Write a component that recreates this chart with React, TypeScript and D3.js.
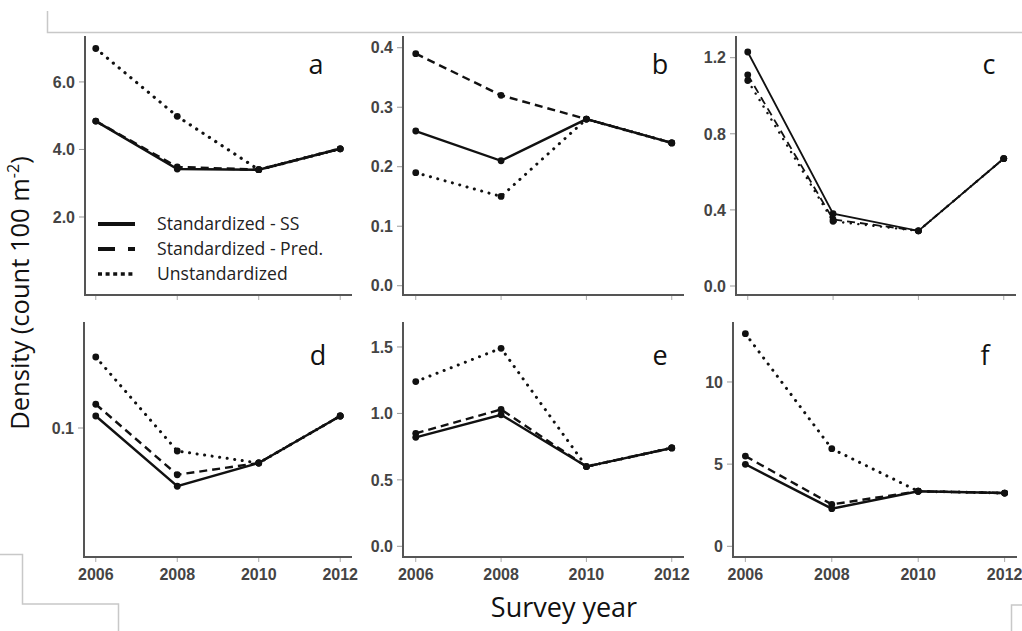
import React from "react";
import * as d3 from "d3";

// Survey years shared by every panel
const YEARS = [2006, 2008, 2010, 2012];
const SERIES_NAMES = ["Standardized - SS", "Standardized - Pred.", "Unstandardized"];

// Panel a
const A_SS = [4.84, 3.42, 3.4, 4.02];
const A_PRED = [4.84, 3.48, 3.4, 4.02];
const A_UNSTD = [6.99, 4.98, 3.4, 4.02];
const A_TICKS = [2, 4, 6];

// Panel b
const B_SS = [0.26, 0.21, 0.28, 0.24];
const B_PRED = [0.39, 0.32, 0.28, 0.24];
const B_UNSTD = [0.19, 0.15, 0.28, 0.24];
const B_TICKS = [0, 0.1, 0.2, 0.3, 0.4];

// Panel c
const C_SS = [1.23, 0.38, 0.29, 0.67];
const C_PRED = [1.11, 0.35, 0.29, 0.67];
const C_UNSTD = [1.08, 0.34, 0.29, 0.67];
const C_TICKS = [0, 0.4, 0.8, 1.2];

// Panel d
const D_SS = [0.1048, 0.0767, 0.086, 0.1048];
const D_PRED = [0.1095, 0.0813, 0.086, 0.1048];
const D_UNSTD = [0.1284, 0.0908, 0.086, 0.1048];
const D_TICKS = [0.1];

// Panel e
const E_SS = [0.82, 0.99, 0.6, 0.74];
const E_PRED = [0.85, 1.03, 0.6, 0.74];
const E_UNSTD = [1.24, 1.49, 0.6, 0.74];
const E_TICKS = [0, 0.5, 1.0, 1.5];

// Panel f
const F_SS = [4.99, 2.29, 3.35, 3.24];
const F_PRED = [5.49, 2.55, 3.35, 3.24];
const F_UNSTD = [12.94, 5.94, 3.35, 3.24];
const F_TICKS = [0, 5, 10];

const X_DOMAIN = [2005.76, 2012.24];

type Panel = {
  id: string;
  ss: number[];
  pred: number[];
  unstd: number[];
  ticks: number[];
  fmt: string;
  yDomain: [number, number];
  xRange: [number, number];
  axisX: number;
  top: number;
  bottom: number;
  labelX: number;
  labelY: number;
  showYears: boolean;
  lw: number;
};

const TOP_ROW = { top: 36, bottom: 295, labelY: 74 };
const BOT_ROW = { top: 322, bottom: 557, labelY: 365 };

const PANELS: Panel[] = [
  { id: "a", ss: A_SS, pred: A_PRED, unstd: A_UNSTD, ticks: A_TICKS, fmt: ".1f", yDomain: [-0.31, 7.36], xRange: [86, 350], axisX: 85, ...TOP_ROW, labelX: 316, showYears: false, lw: 2.6 },
  { id: "b", ss: B_SS, pred: B_PRED, unstd: B_UNSTD, ticks: B_TICKS, fmt: ".1f", yDomain: [-0.0156, 0.4197], xRange: [405.5, 682], axisX: 403, ...TOP_ROW, labelX: 660, showYears: false, lw: 2.4 },
  { id: "c", ss: C_SS, pred: C_PRED, unstd: C_UNSTD, ticks: C_TICKS, fmt: ".1f", yDomain: [-0.0473, 1.314], xRange: [737.5, 1014], axisX: 736, ...TOP_ROW, labelX: 989, showYears: false, lw: 1.8 },
  { id: "d", ss: D_SS, pred: D_PRED, unstd: D_UNSTD, ticks: D_TICKS, fmt: ".1f", yDomain: [0.0484, 0.1424], xRange: [86, 350], axisX: 84, ...BOT_ROW, labelX: 318, showYears: true, lw: 2.4 },
  { id: "e", ss: E_SS, pred: E_PRED, unstd: E_UNSTD, ticks: E_TICKS, fmt: ".1f", yDomain: [-0.0805, 1.688], xRange: [405.5, 682], axisX: 403, ...BOT_ROW, labelX: 660, showYears: true, lw: 2.4 },
  { id: "f", ss: F_SS, pred: F_PRED, unstd: F_UNSTD, ticks: F_TICKS, fmt: "d", yDomain: [-0.651, 13.65], xRange: [735, 1015], axisX: 733, ...BOT_ROW, labelX: 985, showYears: true, lw: 2.4 },
];

const INK = "#111";
const AXIS = "#555";
const TICK_TEXT = "#444";
const FRAME = "#c8c8c8";
const SANS = "'Liberation Sans', Arial, sans-serif";
const HUMAN = "'Open Sans', 'Noto Sans', sans-serif";

function PanelView({ p }: { p: Panel }) {
  const x = d3.scaleLinear().domain(X_DOMAIN).range(p.xRange);
  const y = d3.scaleLinear().domain(p.yDomain).range([p.bottom, p.top]);
  const line = d3
    .line<number>()
    .x((_, i) => x(YEARS[i]))
    .y((v) => y(v));
  const fmt = d3.format(p.fmt);
  const series = [
    { values: p.unstd, dash: "0.1 7.5", cap: "round" as const, w: p.lw + 0.6 },
    { values: p.pred, dash: "8 5", cap: "butt" as const, w: p.lw },
    { values: p.ss, dash: undefined, cap: "butt" as const, w: p.lw },
  ];
  return (
    <g>
      {/* y ticks */}
      {p.ticks.map((t) => (
        <g key={t} transform={`translate(0,${y(t)})`}>
          <line x1={p.axisX - 6} x2={p.axisX} stroke="#999" strokeWidth={1} />
          <text x={p.axisX - 10} dy="0.36em" textAnchor="end" fontFamily={SANS} fontSize={16} fontWeight="bold" fill={TICK_TEXT}>
            {fmt(t)}
          </text>
        </g>
      ))}
      {/* x ticks */}
      {YEARS.map((yr) => (
        <g key={yr} transform={`translate(${x(yr)},${p.bottom})`}>
          <line y1={0} y2={5} stroke="#aaa" strokeWidth={1} />
          {p.showYears && (
            <text y={23} textAnchor="middle" fontFamily={SANS} fontSize={16} fontWeight="bold" fill={TICK_TEXT}>
              {yr}
            </text>
          )}
        </g>
      ))}
      {/* axis lines */}
      <path d={`M${p.axisX},${p.top}V${p.bottom}H${p.xRange[1] + 2}`} fill="none" stroke={AXIS} strokeWidth={2} />
      {/* series */}
      {series.map((s, i) => (
        <g key={i}>
          <path d={line(s.values) ?? ""} fill="none" stroke={INK} strokeWidth={s.w} strokeDasharray={s.dash} strokeLinecap={s.cap} />
          {s.values.map((v, j) => (
            <circle key={j} cx={x(YEARS[j])} cy={y(v)} r={3.4} fill={INK} />
          ))}
        </g>
      ))}
      <text x={p.labelX} y={p.labelY} textAnchor="middle" fontFamily={HUMAN} fontSize={27} fill={INK}>
        {p.id}
      </text>
    </g>
  );
}

function Legend() {
  const styles = [
    { dash: undefined, w: 4 },
    { dash: "17 13", w: 4 },
    { dash: "4 3.6", w: 3.5 },
  ];
  const rowY = d3.scalePoint<string>().domain(SERIES_NAMES).range([224, 274]);
  return (
    <g>
      {SERIES_NAMES.map((name, i) => (
        <g key={name} transform={`translate(0,${rowY(name)})`}>
          <line x1={98} x2={135} stroke={INK} strokeWidth={styles[i].w} strokeDasharray={styles[i].dash} />
          <text x={157} dy="0.35em" fontFamily={HUMAN} fontSize={17.6} fill="#222">
            {name}
          </text>
        </g>
      ))}
    </g>
  );
}

export default function App() {
  return (
    <div style={{ position: "fixed", left: 0, top: 0 }}>
      <svg width={1022} height={631} viewBox="0 0 1022 631" style={{ display: "block", background: "#fff" }}>
        <rect width={1022} height={631} fill="#fff" />
        {/* surrounding frame fragments */}
        <path d="M47.5,11V32.5H1022" fill="none" stroke={FRAME} strokeWidth={1.5} />
        <path d="M0,554.5H22.5V604H118.5V631" fill="none" stroke={FRAME} strokeWidth={1.5} />
        <path d="M1011.5,631V605H1022" fill="none" stroke={FRAME} strokeWidth={1.5} />
        {PANELS.map((p) => (
          <PanelView key={p.id} p={p} />
        ))}
        <Legend />
        <text transform="translate(29,293) rotate(-90)" textAnchor="middle" fontFamily={HUMAN} fontSize={25.5} fill={INK}>
          Density (count 100 m
          <tspan fontSize={16} dy={-10}>-2</tspan>
          <tspan dy={10}>)</tspan>
        </text>
        <text x={564} y={617} textAnchor="middle" fontFamily={HUMAN} fontSize={27} fill={INK}>
          Survey year
        </text>
      </svg>
    </div>
  );
}
